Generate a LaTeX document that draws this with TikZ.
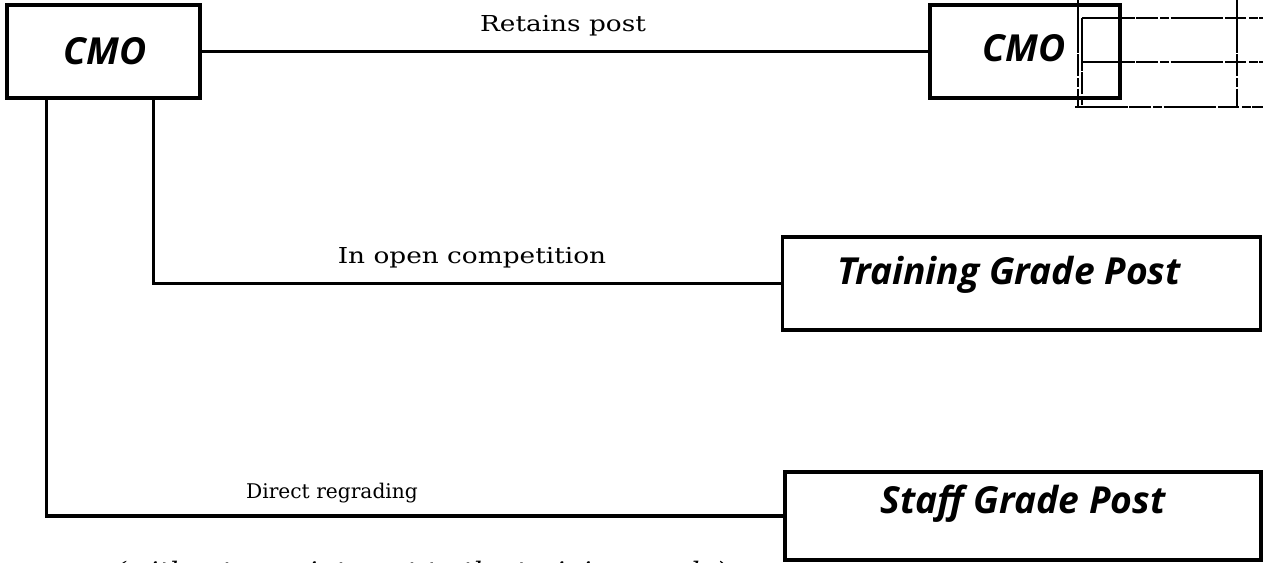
\documentclass[tikz,border=0pt]{standalone}
\usepackage{fontspec}
\newfontfamily\boxfont{Open Sans}
\newfontfamily\lblfont{DejaVu Serif}[FakeStretch=1.2]
\newfontfamily\lblfontn{DejaVu Serif}
\begin{document}
\begin{tikzpicture}[x=0.02cm,y=-0.02cm,
  post/.style={draw, line width=1.8pt, inner sep=0pt},
  posttext/.style={inner sep=0pt, anchor=base,
    font=\boxfont\bfseries\itshape\fontsize{21.2}{25}\selectfont},
  link/.style={line width=1.8pt},
  lbl/.style={inner sep=0pt, anchor=base,
    font=\lblfont\fontsize{12.5}{15}\selectfont},
  scan/.style={line width=0.6pt, dash pattern=on 30pt off 1pt on 12pt off 1.5pt on 5pt off 1pt}]
\useasboundingbox (0,0) rectangle (1263,563);

% grade boxes
\node[post, minimum width=3.86cm, minimum height=1.86cm] (cmoL) at (103.5,51.5) {};
\node[post, minimum width=3.80cm, minimum height=1.86cm] (cmoR) at (1025,51.5) {};
\node[post, minimum width=9.56cm, minimum height=1.86cm] (train) at (1021.5,283.5) {};
\node[post, minimum width=9.52cm, minimum height=1.76cm] (staff) at (1023,516) {};

% box captions
\node[posttext] (cmoLt) at (105,65) {CMO};
\node[posttext] (cmoRt) at (1024,62) {CMO};
\node[posttext] (traint) at (1009,285) {Training Grade Post};
\node[posttext] (stafft) at (1023,513) {Staff Grade Post};

% career routes
\draw[link] (cmoL) -- (cmoR);
\draw[link] (cmoL.south west) ++(148,0) |- (train.west);
\draw[link] (cmoL.south west) ++(41,0) |- (staff.west);

% route labels
\node[lbl] (retain) at (563,32) {Retains post};
\node[lbl] (open) at (472,264) {In open competition};
\node[lbl, font=\lblfontn\fontsize{11.5}{14}\selectfont] (direct) at (332,498) {Direct regrading};

% note below the routes, running off the page
\begin{scope}
  \clip (0,0) rectangle (1263,563);
  \node[lbl, font=\lblfont\itshape\fontsize{13}{16}\selectfont] (note) at (421,578)
    {(without appointment to the training grade)};
\end{scope}

% ruled table showing through at the top right
\draw[scan] (1078,0) -- (1078,106);
\draw[scan] (1082,18) -- (1082,106);
\draw[scan] (1082,18) -- (1263,18);
\draw[scan] (1082,62) -- (1263,62);
\draw[scan] (1075,107) -- (1263,107);
\draw[scan] (1237,0) -- (1237,107);
\end{tikzpicture}
\end{document}
